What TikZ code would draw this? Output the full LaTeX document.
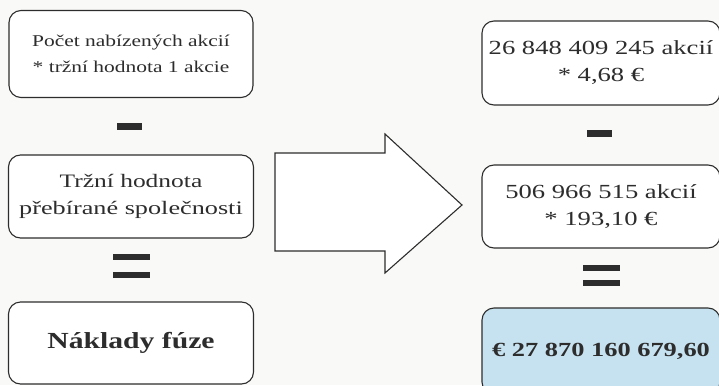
\documentclass[tikz,border=0pt]{standalone}
\usepackage{fontspec}
\setmainfont{Liberation Serif}
\definecolor{bg}{RGB}{249,249,247}
\definecolor{ink}{RGB}{45,45,45}
\definecolor{fillblue}{RGB}{198,226,240}
\newcommand\hs[2][1.3]{\scalebox{#1}[1]{#2}}
\begin{document}
\begin{tikzpicture}[x=1pt,y=-1pt,
  box/.style={draw=ink, line width=1.1pt, rounded corners=12pt, fill=white, inner sep=0pt, align=center, text=ink},
  sign/.style={fill=ink, draw=none, inner sep=0pt}]
\path[use as bounding box, fill=bg] (0,0) rectangle (719,385);
\begin{scope}
\clip (0,0) rectangle (719,385);
% left column
\node[box, minimum width=244pt, minimum height=87pt, font=\fontsize{16.5}{26}\selectfont] (l1) at (131,54) {\hs{Počet nabízených akcií}\\\hs{* tržní hodnota 1 akcie}};
\node[sign, minimum width=25pt, minimum height=7pt] (lm) at (129.5,126.5) {};
\node[box, minimum width=245pt, minimum height=83pt, font=\fontsize{19}{27}\selectfont] (l2) at (131,196.5) {\hs[1.34]{Tržní hodnota}\\\hs[1.38]{přebírané společnosti}};
\node[sign, minimum width=37pt, minimum height=6pt] (le1) at (131.5,256.5) {};
\node[sign, minimum width=37pt, minimum height=6pt] (le2) at (131.5,275) {};
\node[box, minimum width=245pt, minimum height=82pt, font=\fontsize{23}{27}\selectfont\bfseries] (l3) at (131,343) {\hs[1.29]{Náklady fúze}};
% arrow
\draw[draw=ink, line width=1.1pt, fill=white, line join=miter]
  (275,153) -- (385,153) -- (385,134) -- (462,205) -- (385,273) -- (385,251) -- (275,251) -- cycle;
% right column
\node[box, minimum width=238pt, minimum height=84pt, font=\fontsize{20}{27}\selectfont] (r1) at (601,63) {\hs[1.33]{26 848 409 245 akcií}\\\hs[1.33]{* 4,68 €}};
\node[sign, minimum width=25pt, minimum height=7pt] (rm) at (599.5,133.5) {};
\node[box, minimum width=238pt, minimum height=83pt, font=\fontsize{20}{27}\selectfont] (r2) at (601,206.5) {\hs[1.33]{506 966 515 akcií}\\\hs[1.33]{* 193,10 €}};
\node[sign, minimum width=37pt, minimum height=6pt] (re1) at (601.5,268) {};
\node[sign, minimum width=37pt, minimum height=6pt] (re2) at (601.5,283) {};
\node[box, fill=fillblue, minimum width=238pt, minimum height=86pt, font=\fontsize{20}{27}\selectfont\bfseries] (r3) at (601,351) {\hs[1.32]{€ 27 870 160 679,60}};
\end{scope}
\end{tikzpicture}
\end{document}
